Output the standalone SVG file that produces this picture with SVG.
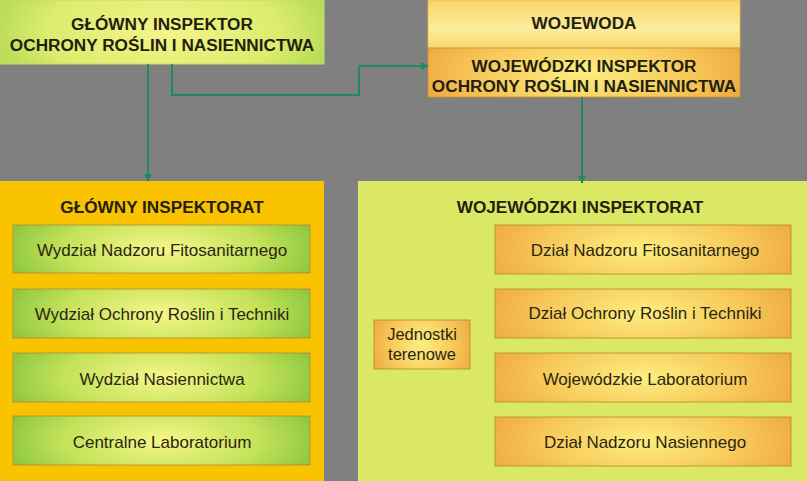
<svg xmlns="http://www.w3.org/2000/svg" width="807" height="481" viewBox="0 0 807 481">
<defs>
<radialGradient id="gGreen" cx="0.5" cy="0.5" r="0.6" gradientTransform="translate(0.5 0.5) scale(1 2.2) translate(-0.5 -0.5)">
<stop offset="0" stop-color="#f6f68a"/><stop offset="0.55" stop-color="#c4e25a"/><stop offset="1" stop-color="#7cbf37"/>
</radialGradient>
<radialGradient id="gTop" cx="0.5" cy="0.5" r="0.6" gradientTransform="translate(0.5 0.5) scale(1 2.2) translate(-0.5 -0.5)">
<stop offset="0" stop-color="#f4f48a"/><stop offset="0.6" stop-color="#dcec6e"/><stop offset="1" stop-color="#a7d44e"/>
</radialGradient>
<radialGradient id="gOrange" cx="0.5" cy="0.5" r="0.6" gradientTransform="translate(0.5 0.5) scale(1 2.2) translate(-0.5 -0.5)">
<stop offset="0" stop-color="#fcee80"/><stop offset="0.55" stop-color="#f7c95a"/><stop offset="1" stop-color="#eea23c"/>
</radialGradient>
<linearGradient id="gWoj" x1="0" y1="0" x2="0" y2="1">
<stop offset="0" stop-color="#f9d46a"/><stop offset="0.6" stop-color="#fcec9c"/><stop offset="1" stop-color="#f8d870"/>
</linearGradient>
<marker id="arr" viewBox="0 0 10 10" refX="9" refY="5" markerWidth="8" markerHeight="8" orient="auto" markerUnits="userSpaceOnUse">
<path d="M0,0 L10,5 L0,10 z" fill="#1f8a5a"/>
</marker>
<style>
.hdr{font-family:"Liberation Sans",Arial,sans-serif;font-weight:bold;font-size:17.2px;fill:#231f10;text-anchor:middle}
.lbl{font-family:"Liberation Sans",Arial,sans-serif;font-size:17px;fill:#2a2610;text-anchor:middle}
.sm{font-size:16.5px}
.box{stroke:#b08a30;stroke-width:0.8}
.conn{fill:none;stroke:#1f8a5a;stroke-width:2}
</style>
</defs>
<rect width="807" height="481" fill="#808080"/>

<g id="panel-glowny-inspektorat">
<rect x="0" y="181" width="324" height="300" fill="#f9c300"/>
<text class="hdr" x="162" y="213">GŁÓWNY INSPEKTORAT</text>
</g>
<g id="panel-wojewodzki-inspektorat">
<rect x="358" y="181" width="449" height="300" fill="#dbe864"/>
<text class="hdr" x="580" y="213">WOJEWÓDZKI INSPEKTORAT</text>
</g>

<g id="gios">
<rect x="0" y="0" width="324" height="64" fill="url(#gTop)" stroke="#c8d870" stroke-width="1"/>
<text class="hdr" x="162" y="30">GŁÓWNY INSPEKTOR</text>
<text class="hdr" x="162" y="51">OCHRONY ROŚLIN I NASIENNICTWA</text>
</g>
<g id="wojewoda">
<rect x="428" y="0" width="312" height="48" fill="url(#gWoj)" stroke="#e0b850" stroke-width="0.8"/>
<text class="hdr" x="584" y="29">WOJEWODA</text>
</g>
<g id="wios">
<rect x="428" y="48" width="312" height="49" fill="url(#gOrange)" stroke="#d09030" stroke-width="0.8"/>
<text class="hdr" x="584" y="72">WOJEWÓDZKI INSPEKTOR</text>
<text class="hdr" x="584" y="92">OCHRONY ROŚLIN I NASIENNICTWA</text>
</g>

<g id="w1"><rect class="box" x="13" y="225" width="297" height="48" fill="url(#gGreen)"/><text class="lbl" x="162" y="256">Wydział Nadzoru Fitosanitarnego</text></g>
<g id="w2"><rect class="box" x="13" y="289" width="297" height="49" fill="url(#gGreen)"/><text class="lbl" x="162" y="320">Wydział Ochrony Roślin i Techniki</text></g>
<g id="w3"><rect class="box" x="13" y="353" width="297" height="49" fill="url(#gGreen)"/><text class="lbl" x="162" y="385">Wydział Nasiennictwa</text></g>
<g id="w4"><rect class="box" x="13" y="416" width="297" height="49" fill="url(#gGreen)"/><text class="lbl" x="162" y="448">Centralne Laboratorium</text></g>

<g id="d1"><rect class="box" x="495" y="225" width="296" height="49" fill="url(#gOrange)"/><text class="lbl" x="645" y="256">Dział Nadzoru Fitosanitarnego</text></g>
<g id="d2"><rect class="box" x="495" y="289" width="296" height="49" fill="url(#gOrange)"/><text class="lbl" x="645" y="319">Dział Ochrony Roślin i Techniki</text></g>
<g id="d3"><rect class="box" x="495" y="353" width="296" height="49" fill="url(#gOrange)"/><text class="lbl" x="645" y="385">Wojewódzkie Laboratorium</text></g>
<g id="d4"><rect class="box" x="495" y="417" width="296" height="49" fill="url(#gOrange)"/><text class="lbl" x="645" y="448">Dział Nadzoru Nasiennego</text></g>

<g id="jednostki"><rect class="box" x="374" y="320" width="96" height="49" fill="url(#gOrange)"/><text class="lbl sm" x="422" y="340">Jednostki</text><text class="lbl sm" x="422" y="360">terenowe</text></g>

<g id="connectors">
<path class="conn" d="M148,64 V181" marker-end="url(#arr)"/>
<path class="conn" d="M172,64 V95 H359 V66 H428" marker-end="url(#arr)"/>
<path class="conn" d="M582,97 V183" marker-end="url(#arr)"/>
</g>
</svg>
